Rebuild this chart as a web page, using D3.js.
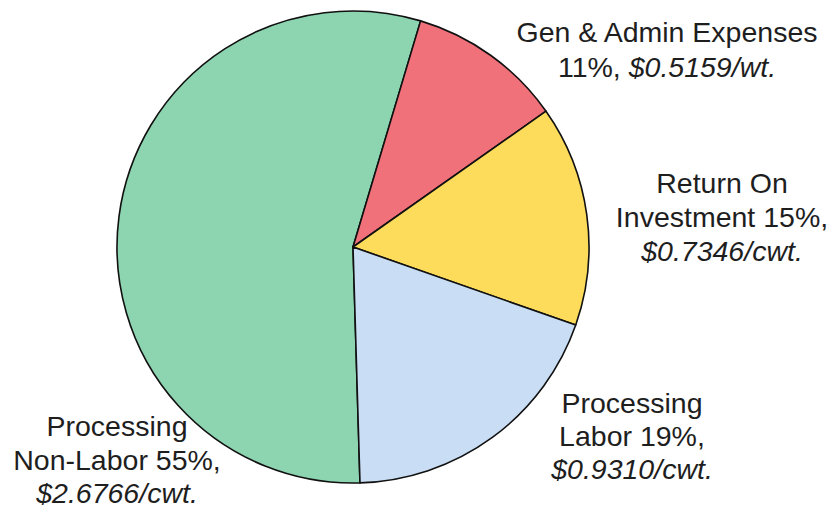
<!DOCTYPE html>
<html>
<head>
<meta charset="utf-8">
<script src="https://cdn.jsdelivr.net/npm/d3@7"></script>
<style>
  html, body { margin: 0; padding: 0; background: #ffffff; overflow: hidden; }
  svg { display: block; }
  text { font-family: "Liberation Sans", Arial, sans-serif; fill: #1e1e1e; }
</style>
</head>
<body>
<svg id="chart" width="832" height="508"></svg>
<script>
// ---- Data ----
const categories = ["Processing Non-Labor", "Gen & Admin Expenses", "Return On Investment", "Processing Labor"];
const costPerCwt = [2.6766, 0.5159, 0.7346, 0.9310];
const percents = [55, 11, 15, 19];
// label text lines: [plain part, italic part]
const labelLines = [
  [["Processing", ""], ["Non-Labor 55%,", ""], ["", "$2.6766/cwt."]],
  [["Gen & Admin Expenses", ""], ["11%, ", "$0.5159/wt."]],
  [["Return On", ""], ["Investment 15%,", ""], ["", "$0.7346/cwt."]],
  [["Processing", ""], ["Labor 19%,", ""], ["", "$0.9310/cwt."]]
];
const sliceColors = ["#8dd5b1", "#f1717b", "#fddc5c", "#c9def5"];

// ---- Layout ----
const cx = 353, cy = 247, radius = 236;
const startDeg = 178.3;
const labelAnchors = [
  { x: 117, y: 436, lh: 33.5 },
  { x: 667, y: 42,  lh: 35 },
  { x: 722, y: 193, lh: 34 },
  { x: 632, y: 413, lh: 33 }
];
const fontSize = 28.5;

const svg = d3.select("#chart");
const g = svg.append("g").attr("transform", `translate(${cx},${cy})`);

const pie = d3.pie()
  .sort(null)
  .value(d => d)
  .startAngle(startDeg * Math.PI / 180)
  .endAngle(startDeg * Math.PI / 180 + 2 * Math.PI);

const arc = d3.arc().innerRadius(0).outerRadius(radius);

g.selectAll("path.slice")
  .data(pie(costPerCwt))
  .join("path")
  .attr("class", "slice")
  .attr("d", arc)
  .attr("fill", (d, i) => sliceColors[i])
  .attr("stroke", "#111")
  .attr("stroke-width", 1.6)
  .attr("stroke-linejoin", "round");

// ---- Labels ----
const labels = svg.selectAll("text.label")
  .data(categories)
  .join("text")
  .attr("class", "label")
  .attr("text-anchor", "middle")
  .attr("font-size", fontSize)
  .attr("x", (d, i) => labelAnchors[i].x)
  .attr("y", (d, i) => labelAnchors[i].y);

labels.each(function(d, i) {
  const t = d3.select(this);
  labelLines[i].forEach((line, li) => {
    const [plain, ital] = line;
    const first = t.append("tspan")
      .attr("x", labelAnchors[i].x)
      .attr("dy", li === 0 ? 0 : labelAnchors[i].lh);
    if (plain && ital) {
      first.text(plain);
      t.append("tspan").attr("font-style", "italic").text(ital);
    } else if (plain) {
      first.text(plain);
    } else {
      first.attr("font-style", "italic").text(ital);
    }
  });
});
</script>
</body>
</html>
